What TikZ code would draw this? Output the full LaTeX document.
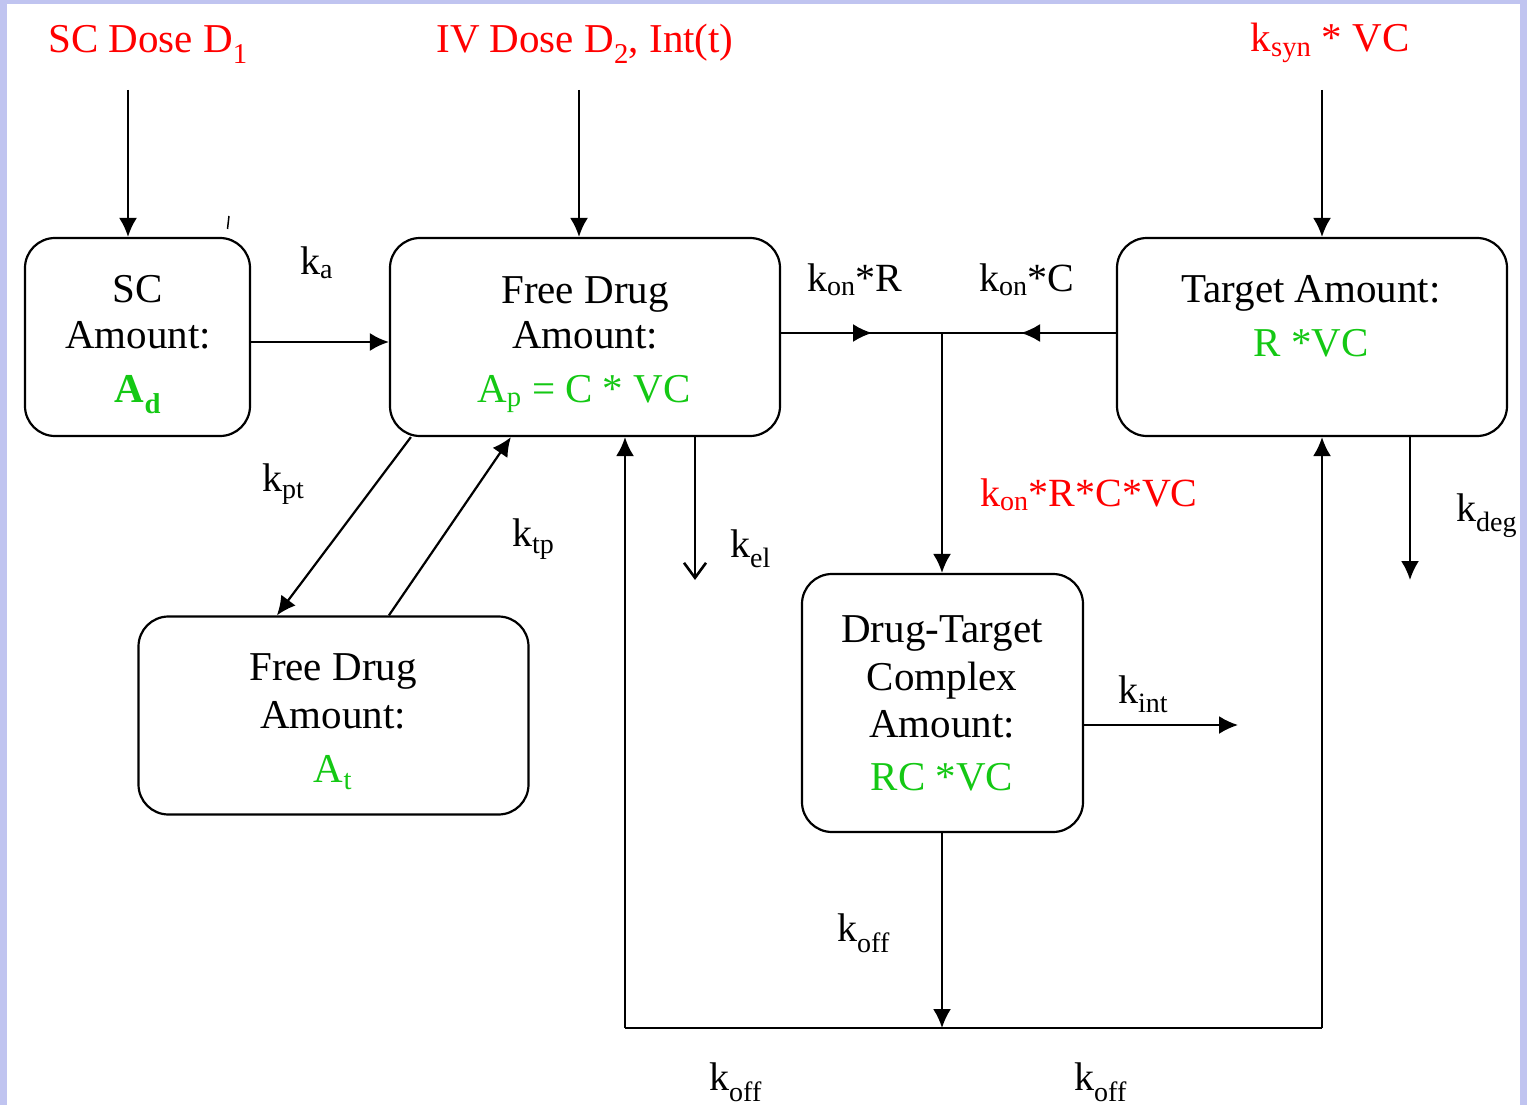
\documentclass[tikz,border=0pt]{standalone}
\usepackage{fontspec}
\setmainfont{Liberation Serif}
\usetikzlibrary{arrows.meta}
\definecolor{lav}{RGB}{192,196,240}
\definecolor{rd}{RGB}{255,0,0}
\definecolor{gr}{RGB}{20,200,20}
\newcommand{\sbs}[1]{\textsubscript{#1}}
\begin{document}
\begin{tikzpicture}[x=1pt,y=-1pt,
 box/.style={draw, line width=2.2pt, rounded corners=30pt, inner sep=0pt},
 t/.style={anchor=base, inner sep=0pt, font=\fontsize{41}{48}\selectfont},
 lbl/.style={anchor=base west, inner sep=0pt, font=\fontsize{40}{48}\selectfont},
 ln/.style={line width=2.2pt},
 arr/.style={ln, -{Latex[length=19pt,width=18pt]}},
 barb/.style={ln, -{Straight Barb[length=15pt,width=22pt,line width=2.6pt]}},
]
\fill[lav] (0,0) rectangle (1527,1105);
\fill[white] (7,4) rectangle (1520,1105);
\useasboundingbox (0,0) rectangle (1527,1105);

% boxes
\node[box, minimum width=225pt, minimum height=198pt] (sc) at (137.5,337) {};
\node[box, minimum width=390pt, minimum height=198pt] (fd) at (585,337) {};
\node[box, minimum width=390pt, minimum height=198pt] (tg) at (1312,337) {};
\node[box, minimum width=390pt, minimum height=198pt] (pt) at (333.5,715.5) {};
\node[box, minimum width=281pt, minimum height=258pt] (cx) at (942.5,703) {};

% top inputs
\node[t, text=rd] (d1) at (148,53) {SC Dose D\sbs{1}};
\node[t, text=rd] (d2) at (585,53) {IV Dose D\sbs{2}, Int(t)};
\node[t, text=rd] (syn) at (1330,52) {k\sbs{syn} * VC};

% box texts
\node[t] (sc1) at (138,302) {SC};
\node[t] (sc2) at (138,348) {Amount:};
\node[t, text=gr] (sc3) at (138,402) {\textbf{A\sbs{d}}};

\node[t] (fd1) at (585,303) {Free Drug};
\node[t] (fd2) at (585,348) {Amount:};
\node[t, text=gr] (fd3) at (584,402) {A\sbs{p} = C * VC};

\node[t] (tg1) at (1311,302) {Target Amount:};
\node[t, text=gr] (tg2) at (1311,356) {R *VC};

\node[t] (pt1) at (333,680) {Free Drug};
\node[t] (pt2) at (333,728) {Amount:};
\node[t, text=gr] (pt3) at (333,782) {A\sbs{t}};

\node[t] (cx1) at (942,642) {Drug-Target};
\node[t] (cx2) at (942,690) {Complex};
\node[t] (cx3) at (942,737) {Amount:};
\node[t, text=gr] (cx4) at (942,790) {RC *VC};

% rate labels
\node[lbl] (ka) at (300,274) {k\sbs{a}};
\node[lbl] (kpt) at (262,491) {k\sbs{pt}};
\node[lbl] (ktp) at (512,546) {k\sbs{tp}};
\node[lbl] (kel) at (730,557) {k\sbs{el}};
\node[lbl] (konR) at (807,291) {k\sbs{on}*R};
\node[lbl] (konC) at (979,291) {k\sbs{on}*C};
\node[lbl, text=rd] (konRC) at (980,506) {k\sbs{on}*R*C*VC};
\node[lbl] (kint) at (1118,703) {k\sbs{int}};
\node[lbl] (kdeg) at (1456,521) {k\sbs{deg}};
\node[lbl] (koff1) at (837,941) {k\sbs{off}};
\node[lbl] (koff2) at (709,1090) {k\sbs{off}};
\node[lbl] (koff3) at (1074,1090) {k\sbs{off}};

% coordinates
\coordinate (d1a) at (128,90);
\coordinate (d2a) at (579,90);
\coordinate (sya) at (1322,90);
\coordinate (kele) at (695,580);
\coordinate (j) at (942,333);
\coordinate (mR) at (872,333);
\coordinate (mC) at (1021,333);
\coordinate (kinte) at (1238,725);
\coordinate (kde) at (1410,580);
\coordinate (bj) at (942,1028);
\coordinate (bl) at (625,1028);
\coordinate (br) at (1322,1028);
\coordinate (tk1) at (227.5,229);
\coordinate (tk2) at (229,216);

% connectors
\draw[arr] (d1a) -- (d1a |- sc.north);
\draw[arr] (d2a) -- (d2a |- fd.north);
\draw[arr] (sya) -- (sya |- tg.north);
\draw[arr] ([yshift=-5pt]sc.east) -- ([yshift=-5pt]fd.west);
\draw[arr] ([xshift=22pt]fd.south west) -- ([xshift=139.5pt]pt.north west);
\draw[arr] ([xshift=251.5pt]pt.north west) -- ([xshift=122pt]fd.south west);
\draw[barb] (kele |- fd.south) -- (kele);

\draw[ln] (fd.east |- j) -- (j);
\draw[arr] (fd.east |- j) -- (mR);
\draw[ln] (tg.west |- j) -- (j);
\draw[arr] (tg.west |- j) -- (mC);
\draw[arr] (j) -- (j |- cx.north);

\draw[arr] (cx.east |- kinte) -- (kinte);
\draw[arr] (kde |- tg.south) -- (kde);

\draw[arr] (j |- cx.south) -- (bj);
\draw[ln] (bl) -- (br);
\draw[arr] (bl) -- (bl |- fd.south);
\draw[arr] (br) -- (br |- tg.south);

\draw[line width=1.5pt] (tk1) -- (tk2);
\end{tikzpicture}
\end{document}
